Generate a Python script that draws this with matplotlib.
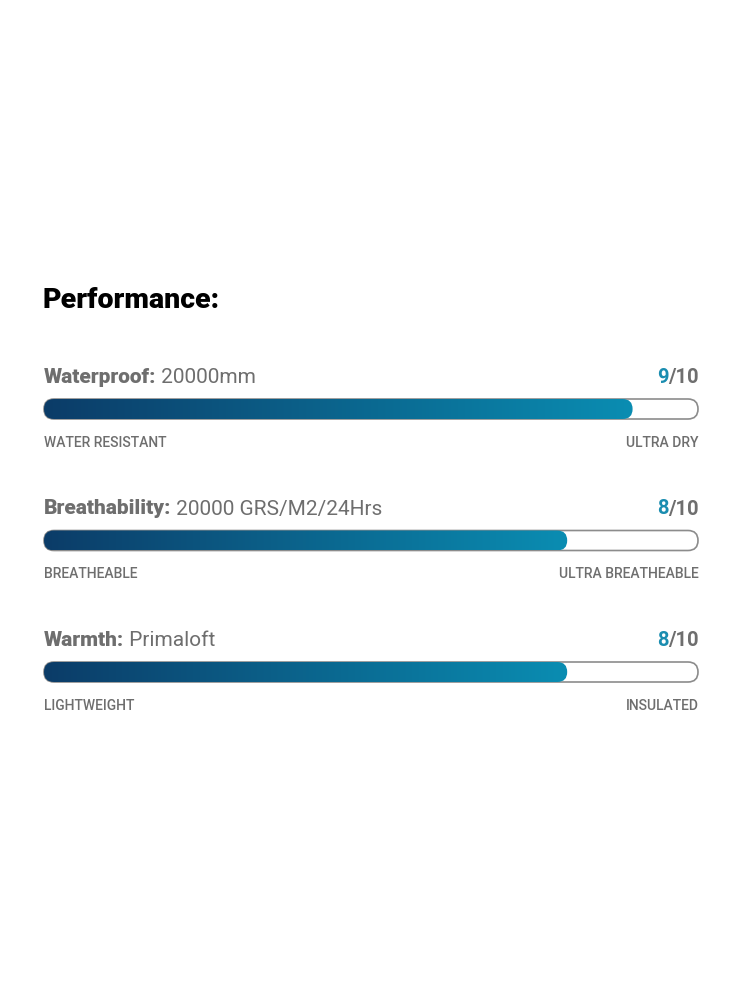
import numpy as np
import matplotlib
matplotlib.use("Agg")
import matplotlib.pyplot as plt
from matplotlib.patches import FancyBboxPatch
from matplotlib.colors import LinearSegmentedColormap

# chart data
heading = "Performance:"
names = ["Waterproof:", "Breathability:", "Warmth:"]
specs = ["20000mm", "20000 GRS/M2/24Hrs", "Primaloft"]
scores = [9, 8, 8]
max_score = 10
low_labels = ["WATER RESISTANT", "BREATHEABLE", "LIGHTWEIGHT"]
high_labels = ["ULTRA DRY", "ULTRA BREATHEABLE", "INSULATED"]

gray = "#6e6e6e"
teal = "#1a8db0"
cmap = LinearSegmentedColormap.from_list("perf", ["#0c3c68", "#0a8db2"])

fig = plt.figure(figsize=(7.5, 10), dpi=100)
ax = fig.add_axes([0, 0, 1, 1])
ax.set_xlim(0, 750)
ax.set_ylim(1000, 0)
ax.axis("off")

main_font = ["Roboto", "DejaVu Sans"]

ax.text(43, 308, heading, fontsize=20.5, fontweight="heavy", color="black",
        family=main_font, va="baseline")

x0, x1 = 44, 698
bar_h = 20
row_gap = 131.5
grad = np.linspace(0, 1, 256).reshape(1, -1)

for i in range(len(names)):
    base = 383 + i * row_gap
    t1 = ax.text(x0, base, names[i], fontsize=15, fontweight="heavy", color=gray,
                 family=main_font, va="baseline")
    ax.annotate(" " + specs[i], xy=(1, 0), xycoords=t1, fontsize=15, color=gray,
                family=main_font, va="bottom", ha="left")

    t2 = ax.text(x1 + 1, base, "/" + str(max_score), fontsize=14.5, fontweight="bold",
                 color=gray, family=main_font, va="baseline", ha="right")
    ax.annotate(str(scores[i]), xy=(0, 0), xycoords=t2, fontsize=14.5,
                fontweight="bold", color=teal, family=main_font,
                va="bottom", ha="right")

    top = base + 16
    track = FancyBboxPatch((x0, top), x1 - x0, bar_h,
                           boxstyle="round,pad=0,rounding_size=10",
                           facecolor="white", edgecolor="#8c8c8c", lw=1.2)
    ax.add_patch(track)

    fill_w = (x1 - x0) * scores[i] / max_score
    clip = FancyBboxPatch((x0, top), fill_w, bar_h,
                          boxstyle="round,pad=0,rounding_size=10",
                          facecolor="none", edgecolor="none")
    ax.add_patch(clip)
    im = ax.imshow(grad, cmap=cmap, aspect="auto",
                   extent=[x0, x0 + fill_w, top + bar_h, top], zorder=3)
    im.set_clip_path(clip)

    lab_y = base + 64
    ax.text(x0, lab_y, low_labels[i], fontsize=10, fontweight="medium", color=gray,
            family=main_font, va="baseline", ha="left")
    ax.text(x1 + 1, lab_y, high_labels[i], fontsize=10, fontweight="medium", color=gray,
            family=main_font, va="baseline", ha="right")

ax.set_xlim(0, 750)
ax.set_ylim(1000, 0)
fig.savefig("out.png", dpi=100, facecolor="white")
